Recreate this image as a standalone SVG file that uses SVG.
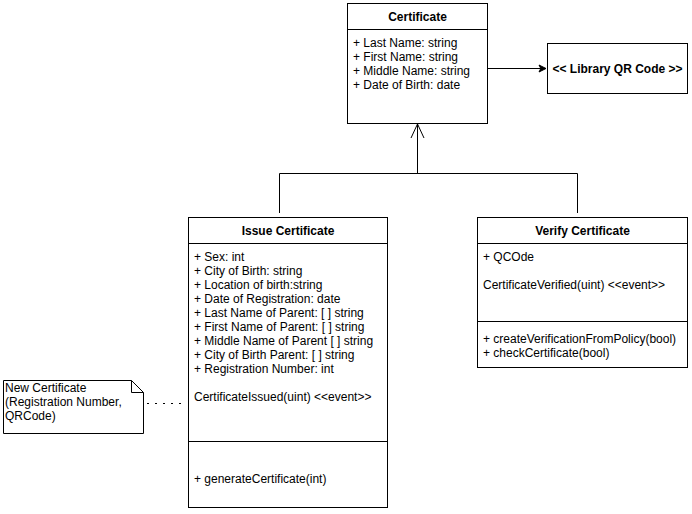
<svg xmlns="http://www.w3.org/2000/svg" width="692" height="514" viewBox="0 0 692 514">
<style>
text{font-family:"Liberation Sans",Arial,sans-serif;font-size:12px;fill:#000}
.b{font-weight:bold}
.c{text-anchor:middle}
.box{fill:#fff;stroke:#000;stroke-width:1}
.ln{fill:none;stroke:#000;stroke-width:1}
</style>
<defs>
<marker id="filled" markerWidth="10" markerHeight="10" refX="8" refY="5" orient="auto" markerUnits="userSpaceOnUse">
<path d="M1,1.5 L8,5 L1,8.5 L2.8,5 Z" fill="#000" stroke="#000"/>
</marker>
<marker id="open" markerWidth="18" markerHeight="18" refX="15" refY="9" orient="auto" markerUnits="userSpaceOnUse" overflow="visible">
<path d="M1,2.5 L15,9 L1,15.5" fill="none" stroke="#000"/>
</marker>
</defs>
<g id="connectors">
<path class="ln" d="M487.5,68.5 L546,68.5" marker-end="url(#filled)"/>
<path class="ln" d="M417.5,173.5 L417.5,124" marker-end="url(#open)"/>
<path class="ln" d="M279.5,213 L279.5,173.5 L577.5,173.5 L577.5,213"/>
<path class="ln" d="M147,403.5 L183,403.5" stroke-dasharray="2,6" stroke-width="2"/>
</g>
<g id="certificate">
<rect class="box" x="347.5" y="3.5" width="140" height="120"/>
<line class="ln" x1="347.5" y1="29.5" x2="487.5" y2="29.5"/>
<text class="b c" x="417.5" y="21">Certificate</text>
<text x="353" y="47">+ Last Name: string</text>
<text x="353" y="61">+ First Name: string</text>
<text x="353" y="75">+ Middle Name: string</text>
<text x="353" y="89">+ Date of Birth: date</text>
</g>
<g id="library-qr">
<rect class="box" x="547.5" y="43.5" width="140" height="50"/>
<text class="b c" x="617.5" y="72.5">&lt;&lt; Library QR Code &gt;&gt;</text>
</g>
<g id="issue-certificate">
<rect class="box" x="188.5" y="217.5" width="199" height="290"/>
<line class="ln" x1="188.5" y1="243.5" x2="387.5" y2="243.5"/>
<line class="ln" x1="188.5" y1="441.5" x2="387.5" y2="441.5"/>
<text class="b c" x="288" y="235">Issue Certificate</text>
<text x="194" y="261">+ Sex: int</text>
<text x="194" y="275">+ City of Birth: string</text>
<text x="194" y="289">+ Location of birth:string</text>
<text x="194" y="303">+ Date of Registration: date</text>
<text x="194" y="317">+ Last Name of Parent: [ ] string</text>
<text x="194" y="331">+ First Name of Parent: [ ] string</text>
<text x="194" y="345">+ Middle Name of Parent [ ] string</text>
<text x="194" y="359">+ City of Birth Parent: [ ] string</text>
<text x="194" y="373">+ Registration Number: int</text>
<text x="194" y="401">CertificateIssued(uint) &lt;&lt;event&gt;&gt;</text>
<text x="194" y="483">+ generateCertificate(int)</text>
</g>
<g id="verify-certificate">
<rect class="box" x="477.5" y="217.5" width="210" height="150"/>
<line class="ln" x1="477.5" y1="243.5" x2="687.5" y2="243.5"/>
<line class="ln" x1="477.5" y1="321.5" x2="687.5" y2="321.5"/>
<text class="b c" x="582.5" y="235">Verify Certificate</text>
<text x="483" y="261">+ QCOde</text>
<text x="483" y="289">CertificateVerified(uint) &lt;&lt;event&gt;&gt;</text>
<text x="483" y="343">+ createVerificationFromPolicy(bool)</text>
<text x="483" y="357">+ checkCertificate(bool)</text>
</g>
<g id="note">
<path class="box" d="M3.5,380.5 L131.5,380.5 L143.5,392.5 L143.5,433.5 L3.5,433.5 Z"/>
<path class="ln" d="M131.5,380.5 L131.5,392.5 L143.5,392.5"/>
<text x="5" y="392">New Certificate</text>
<text x="5" y="406">(Registration Number,</text>
<text x="5" y="420">QRCode)</text>
</g>
</svg>
